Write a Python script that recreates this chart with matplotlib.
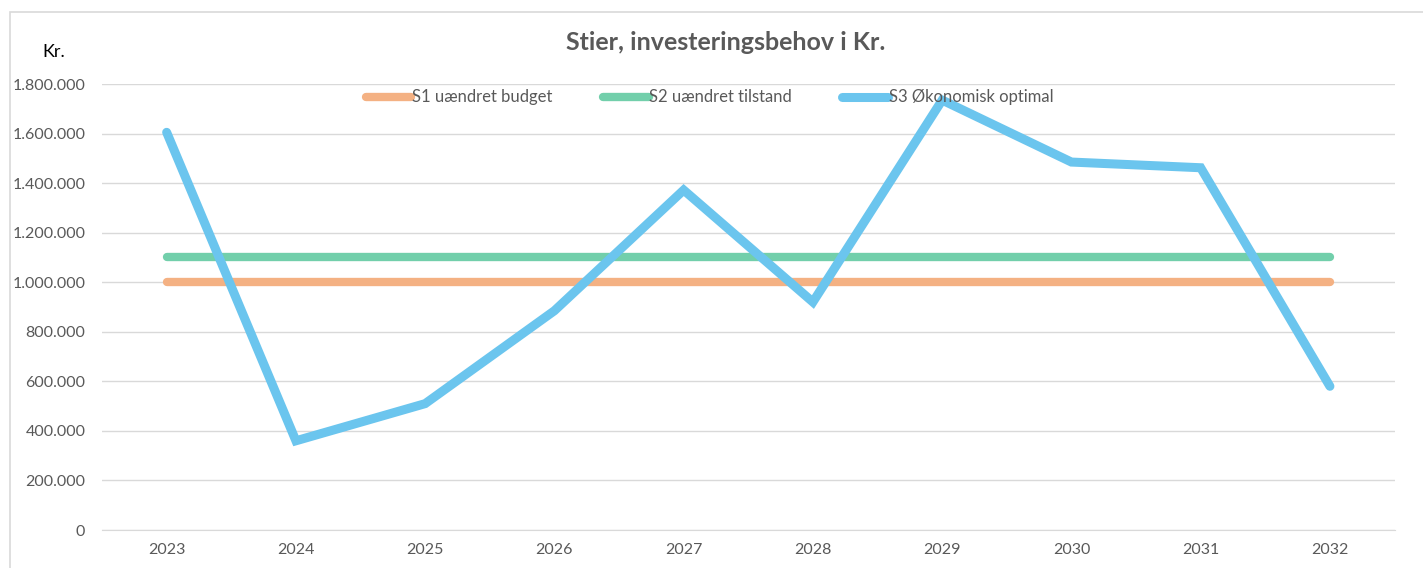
import numpy as np
import matplotlib.pyplot as plt
from matplotlib.patches import Rectangle
from matplotlib.ticker import FuncFormatter

plt.rcParams['font.family'] = ['Lato', 'DejaVu Sans']

# Data
years = ['2023', '2024', '2025', '2026', '2027', '2028', '2029', '2030', '2031', '2032']
s1 = [1000000] * 10
s2 = [1100000] * 10
s3 = [1605000, 360000, 510000, 885000, 1372000, 920000, 1735000, 1485000, 1462000, 580000]

labels = ['S1 uændret budget', 'S2 uændret tilstand', 'S3 Økonomisk optimal']
colors = ['#F4B183', '#72CFAB', '#6BC5EE']

fig = plt.figure(figsize=(14.23, 5.68), dpi=100)
ax = fig.add_axes([0.0717, 0.0669, 0.9083, 0.7852])

# ramme om diagrammet
fig.patches.append(Rectangle((10 / 1423, -0.1), 1.2, 1 - 12 / 568 + 0.1,
                             transform=fig.transFigure, fill=False,
                             edgecolor='#D9D9D9', linewidth=1.2))

x = np.arange(len(years))
ax.plot(x, s1, color=colors[0], linewidth=6, solid_capstyle='round', label=labels[0])
ax.plot(x, s2, color=colors[1], linewidth=6, solid_capstyle='round', label=labels[1])
ax.plot(x, s3, color=colors[2], linewidth=6.5, solid_capstyle='round',
        solid_joinstyle='miter', label=labels[2])

ax.set_xlim(-0.5, len(years) - 0.5)
ax.set_ylim(0, 1800000)
ax.set_xticks(x)
ax.set_xticklabels(years)
ax.set_yticks(np.arange(0, 1800001, 200000))
ax.yaxis.set_major_formatter(FuncFormatter(lambda v, p: f'{int(v):,}'.replace(',', '.')))

ax.tick_params(axis='both', length=0, labelsize=11.5, colors='#595959')
ax.tick_params(axis='y', pad=12)
ax.tick_params(axis='x', pad=9)
ax.grid(axis='y', color='#D9D9D9', linewidth=1)
ax.set_axisbelow(True)
for side in ['top', 'right', 'left']:
    ax.spines[side].set_visible(False)
ax.spines['bottom'].set_color('#D9D9D9')

fig.text(726 / 1423, 1 - 43 / 568, 'Stier, investeringsbehov i Kr.', ha='center', va='center',
         fontsize=18, fontweight='bold', color='#595959')
fig.text(54 / 1423, 1 - 52 / 568, 'Kr.', ha='center', va='center', fontsize=13, color='black')

ax.legend(loc='center', bbox_to_anchor=(0.47, 0.97), ncol=3, frameon=False,
          fontsize=12, handlelength=2.75, handletextpad=0.05, columnspacing=3.0,
          labelcolor='#595959')

plt.savefig('out.png', dpi=100)
